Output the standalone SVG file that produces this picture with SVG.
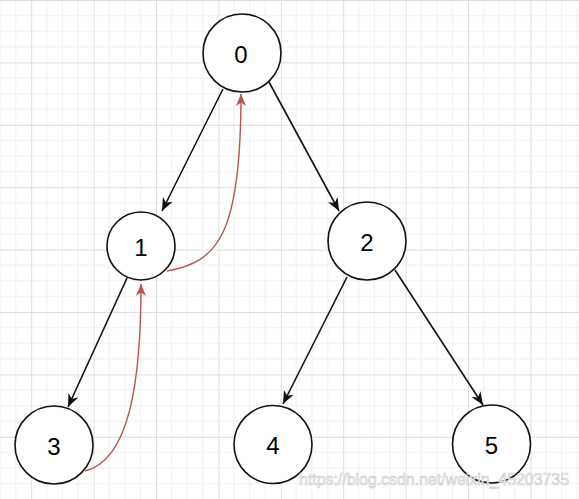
<svg xmlns="http://www.w3.org/2000/svg" width="579" height="499" viewBox="0 0 579 499">
  <style>
    .node circle { fill: #ffffff; stroke: #111111; stroke-width: 1.6; }
    .node text { font-family: "Liberation Sans", Arial, sans-serif; font-size: 24px; fill: #000000; text-anchor: middle; dominant-baseline: central; }
    .edge { fill: none; stroke: #111111; stroke-width: 1.6; }
    .back { fill: none; stroke: #b85450; stroke-width: 1.4; }
    .wm { font-family: "Liberation Sans", Arial, sans-serif; font-size: 17px; fill: #f4f4f4; stroke: #c8c8c8; stroke-width: 0.6; }
  </style>
  <defs>
    <pattern id="grid" width="62.4" height="62.4" x="31.2" y="0" patternUnits="userSpaceOnUse">
      <path d="M15.6,0 V62.4 M31.2,0 V62.4 M46.8,0 V62.4 M0,15.6 H62.4 M0,31.2 H62.4 M0,46.8 H62.4" stroke="#f0f0f0" stroke-width="1" fill="none"/>
      <path d="M0.5,0 V62.4 M0,0.5 H62.4" stroke="#dedede" stroke-width="1" fill="none"/>
    </pattern>
    <marker id="arrowBlack" viewBox="0 0 10 10" refX="10" refY="5" markerWidth="13" markerHeight="13" markerUnits="userSpaceOnUse" orient="auto">
      <path d="M0,0.8 L10,5 L0,9.2 L3,5 Z" fill="#111111"/>
    </marker>
    <marker id="arrowRed" viewBox="0 0 10 10" refX="10" refY="5" markerWidth="12" markerHeight="12" markerUnits="userSpaceOnUse" orient="auto">
      <path d="M0,0.8 L10,5 L0,9.2 L3,5 Z" fill="#b85450"/>
    </marker>
  </defs>
  <rect x="0" y="0" width="579" height="499" fill="#ffffff"/>
  <rect x="0" y="0" width="579" height="499" fill="url(#grid)"/>

  <g id="connectors">
    <path class="edge" d="M223,89 L162,211" marker-end="url(#arrowBlack)"/>
    <path class="edge" d="M269,82 L339,211" marker-end="url(#arrowBlack)"/>
    <path class="edge" d="M127,278 L68,407" marker-end="url(#arrowBlack)"/>
    <path class="edge" d="M347,277 L283,404" marker-end="url(#arrowBlack)"/>
    <path class="edge" d="M395,270 L483,405" marker-end="url(#arrowBlack)"/>
    <path class="back" d="M85,471 C130,460 141,380 141,284" marker-end="url(#arrowRed)"/>
    <path class="back" d="M167,271 C218,262 241,235 241,94" marker-end="url(#arrowRed)"/>
  </g>

  <g id="node0" class="node"><circle cx="242" cy="53" r="39"/><text x="241" y="54">0</text></g>
  <g id="node1" class="node"><circle cx="141" cy="246" r="34"/><text x="141" y="247">1</text></g>
  <g id="node2" class="node"><circle cx="367" cy="241" r="39"/><text x="367" y="242">2</text></g>
  <g id="node3" class="node"><circle cx="54" cy="445" r="39"/><text x="54" y="446">3</text></g>
  <g id="node4" class="node"><circle cx="273" cy="444.5" r="39"/><text x="273" y="445">4</text></g>
  <g id="node5" class="node"><circle cx="491.5" cy="444" r="39"/><text x="491.5" y="445">5</text></g>

  <text class="wm" x="299" y="485" textLength="270" lengthAdjust="spacingAndGlyphs">https://blog.csdn.net/weixin_45203735</text>
</svg>
